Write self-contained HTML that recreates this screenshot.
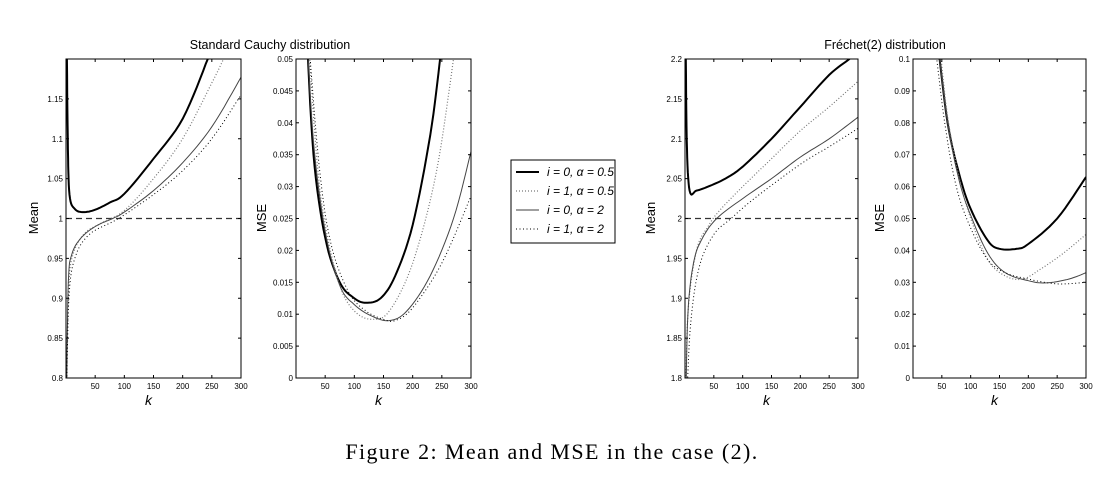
<!DOCTYPE html>
<html><head><meta charset="utf-8"><style>
html,body{margin:0;padding:0;background:#fff;}
svg{display:block;font-family:"Liberation Sans",sans-serif;}
</style></head><body>
<svg id="s" width="1103" height="489" viewBox="0 0 1103 489" xmlns="http://www.w3.org/2000/svg">
<text x="270" y="49" font-size="12.5" text-anchor="middle">Standard Cauchy distribution</text>
<text x="885" y="49" font-size="12.5" text-anchor="middle">Fréchet(2) distribution</text>
<text x="552" y="459" font-size="22" letter-spacing="1.4" text-anchor="middle" font-family="Liberation Serif, serif">Figure 2: Mean and MSE in the case (2).</text>
<g id="legend">
<rect x="511" y="160" width="104" height="83" fill="#fff" stroke="#000" stroke-width="1"/>
<line x1="516" y1="172" x2="539" y2="172" stroke="#000" stroke-width="2"/>
<line x1="516" y1="191" x2="539" y2="191" stroke="#555" stroke-width="1" stroke-dasharray="1,2"/>
<line x1="516" y1="210" x2="539" y2="210" stroke="#666" stroke-width="1.2"/>
<line x1="516" y1="229" x2="539" y2="229" stroke="#000" stroke-width="1" stroke-dasharray="1,2.5"/>
<g font-size="12" font-style="italic">
<text x="547" y="176">i = 0, α = 0.5</text>
<text x="547" y="195">i = 1, α = 0.5</text>
<text x="547" y="214">i = 0, α = 2</text>
<text x="547" y="233">i = 1, α = 2</text>
</g>
</g>
</svg>
<script>
const S=document.getElementById('s');const NS='http://www.w3.org/2000/svg';
function el(t,a,txt){const e=document.createElementNS(NS,t);for(const k in a)e.setAttribute(k,a[k]);if(txt!==undefined)e.textContent=txt;S.appendChild(e);return e;}
const T=59,B=378;
function cr(pts,n){const out=[];for(let i=0;i<pts.length-1;i++){const p0=pts[Math.max(0,i-1)],p1=pts[i],p2=pts[i+1],p3=pts[Math.min(pts.length-1,i+2)];for(let j=0;j<n;j++){const t=j/n,t2=t*t,t3=t2*t;const f=(a,b,c,d)=>0.5*((2*b)+(-a+c)*t+(2*a-5*b+4*c-d)*t2+(-a+3*b-3*c+d)*t3);out.push([f(p0[0],p1[0],p2[0],p3[0]),f(p0[1],p1[1],p2[1],p3[1])]);}}out.push(pts[pts.length-1]);return out;}
let cid=0;
function panel(L,R,ymin,ymax,yt,ylab,labx,series,dashY){
 const W=R-L;const X=k=>L+k/300*W;const Y=v=>B-(v-ymin)/(ymax-ymin)*(B-T);
 cid++;const d=el('clipPath',{id:'c'+cid});const r=document.createElementNS(NS,'rect');r.setAttribute('x',L);r.setAttribute('y',T);r.setAttribute('width',W);r.setAttribute('height',B-T);d.appendChild(r);
 if(dashY!==undefined)el('line',{x1:L,x2:R,y1:Y(dashY),y2:Y(dashY),stroke:'#333','stroke-width':1.2,'stroke-dasharray':'6,4'});
 for(const s of series){const p=cr(s.p.map(q=>[X(q[0]),Y(q[1])]),8);el('polyline',{points:p.map(q=>q[0].toFixed(1)+','+q[1].toFixed(1)).join(' '),fill:'none',stroke:s.c,'stroke-width':s.w,'stroke-dasharray':s.d||'','clip-path':'url(#c'+cid+')'});}
 el('rect',{x:L,y:T,width:W,height:B-T,fill:'none',stroke:'#000','stroke-width':1});
 for(const k of [50,100,150,200,250,300]){const x=X(k);el('line',{x1:x,x2:x,y1:B,y2:B-3,stroke:'#000'});el('line',{x1:x,x2:x,y1:T,y2:T+3,stroke:'#000'});el('text',{x:x,y:B+11,'font-size':8,'text-anchor':'middle'},String(k));}
 for(const v of yt){const y=Y(v);el('line',{x1:L,x2:L+3,y1:y,y2:y,stroke:'#000'});el('line',{x1:R,x2:R-3,y1:y,y2:y,stroke:'#000'});el('text',{x:L-3,y:y+3,'font-size':8,'text-anchor':'end'},String(v));}
 el('text',{x:L+W/2-5,y:B+27,'font-size':14,'font-style':'italic','text-anchor':'middle'},'k');
 el('text',{x:labx,y:218,'font-size':13,'text-anchor':'middle',transform:'rotate(-90 '+labx+' 218)'},ylab);
}
const bold={c:'#000',w:2},thin={c:'#444',w:1},dg={c:'#777',w:1.2,d:'1,2'},db={c:'#000',w:1,d:'1,2.5'};
panel(66,241,0.8,1.2,[0.8,0.85,0.9,0.95,1,1.05,1.1,1.15],'Mean',38,[
 {...bold,p:[[1,1.25],[3,1.1],[6,1.03],[15,1.012],[30,1.008],[50,1.011],[75,1.02],[100,1.031],[150,1.075],[200,1.125],[243,1.2],[250,1.215]]},
 {...dg,p:[[1,0.78],[4,0.9],[10,0.95],[30,0.98],[60,0.994],[100,1.01],[150,1.05],[200,1.1],[250,1.17],[270,1.2],[275,1.21]]},
 {...thin,p:[[1,0.78],[4,0.92],[10,0.955],[25,0.975],[50,0.99],[80,1.0],[100,1.008],[150,1.035],[200,1.07],[250,1.115],[300,1.177]]},
 {...db,p:[[1,0.78],[5,0.9],[15,0.95],[40,0.98],[90,1.0],[150,1.03],[200,1.06],[250,1.1],[300,1.155]]}],1);
panel(296,471,0,0.05,[0,0.005,0.01,0.015,0.02,0.025,0.03,0.035,0.04,0.045,0.05],'MSE',266,[
 {...bold,p:[[18,0.055],[30,0.035],[50,0.022],[75,0.015],[100,0.0125],[120,0.0118],[145,0.0125],[170,0.016],[200,0.024],[230,0.038],[247,0.05],[250,0.053]]},
 {...thin,p:[[18,0.055],[30,0.037],[50,0.023],[75,0.0145],[100,0.0115],[130,0.0097],[160,0.009],[190,0.0105],[230,0.016],[270,0.025],[300,0.0355]]},
 {...dg,p:[[20,0.055],[35,0.035],[50,0.024],[75,0.0145],[100,0.0105],[130,0.0092],[160,0.0105],[200,0.018],[240,0.032],[270,0.05],[273,0.053]]},
 {...db,p:[[20,0.055],[40,0.033],[60,0.021],[90,0.0135],[120,0.0105],[150,0.0092],[170,0.009],[200,0.011],[250,0.018],[300,0.0285]]}]);
panel(685,858,1.8,2.2,[1.8,1.85,1.9,1.95,2,2.05,2.1,2.15,2.2],'Mean',655,[
 {...bold,p:[[1,2.25],[3,2.1],[8,2.035],[20,2.035],[40,2.04],[70,2.05],[100,2.065],[150,2.1],[200,2.14],[250,2.18],[285,2.2],[290,2.205]]},
 {...dg,p:[[1,1.75],[5,1.88],[20,1.96],[40,1.99],[60,2.01],[100,2.04],[150,2.075],[200,2.11],[250,2.14],[300,2.172]]},
 {...thin,p:[[1,1.75],[5,1.88],[15,1.945],[30,1.975],[55,2.0],[100,2.025],[150,2.05],[200,2.077],[250,2.1],[300,2.127]]},
 {...db,p:[[3,1.77],[10,1.87],[25,1.94],[50,1.98],[80,2.0],[120,2.025],[200,2.068],[250,2.09],[300,2.113]]}],2);
panel(913,1086,0,0.1,[0,0.01,0.02,0.03,0.04,0.05,0.06,0.07,0.08,0.09,0.1],'MSE',884,[
 {...bold,p:[[43,0.105],[60,0.08],[80,0.064],[100,0.053],[130,0.043],[150,0.0405],[180,0.0405],[200,0.042],[250,0.05],[300,0.063]]},
 {...thin,p:[[43,0.105],[60,0.08],[80,0.062],[100,0.051],[130,0.039],[160,0.033],[200,0.0305],[230,0.0298],[270,0.031],[300,0.033]]},
 {...dg,p:[[46,0.105],[60,0.082],[80,0.063],[100,0.05],[130,0.037],[160,0.032],[190,0.031],[220,0.034],[260,0.039],[300,0.045]]},
 {...db,p:[[38,0.105],[55,0.08],[75,0.06],[100,0.047],[130,0.037],[160,0.033],[200,0.031],[250,0.0295],[300,0.03]]}]);
</script>
</body></html>
